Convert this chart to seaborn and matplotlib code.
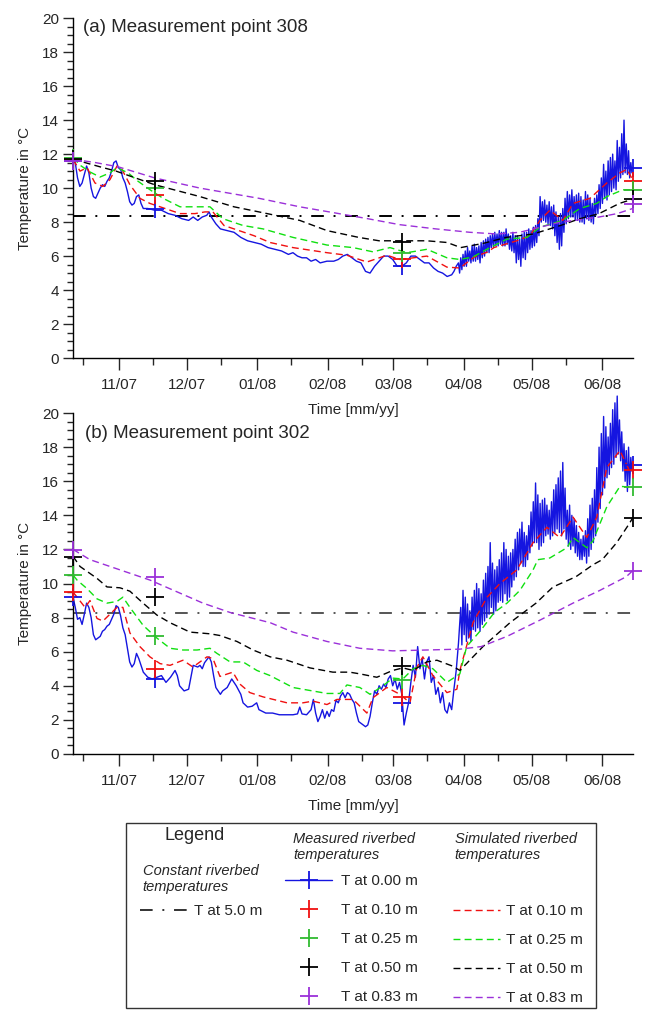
import numpy as np
import pandas as pd
import seaborn as sns
import matplotlib.pyplot as plt
import matplotlib.dates as mdates
from matplotlib.lines import Line2D
from matplotlib.patches import Rectangle
from matplotlib.ticker import MultipleLocator

sns.set_style("ticks")
plt.rcParams['font.family'] = ['Liberation Sans', 'DejaVu Sans']

# time axis: days after 2007-10-11 16:00 (left edge of both panels)
START = pd.Timestamp("2007-10-11 16:00")
END_DAY = 247

# ---------------- measurement point 308 ----------------
mp308_days = [0, 1, 2, 3, 4, 5, 6, 7, 8, 9, 10, 11, 12, 13, 14, 15, 16, 17, 18, 19,
              20, 21, 22, 23, 24, 25, 26, 27, 28, 29, 30, 31, 33, 36, 39, 42, 45, 48,
              51, 53, 55, 57, 59, 60, 61, 63, 65, 68, 71, 74, 77, 80, 83, 86, 89, 92,
              95, 97, 99, 101, 103, 105, 107, 109, 112, 115, 117, 119, 121, 123, 125,
              127, 129, 131, 133, 135, 137, 139, 141, 143, 145, 147, 149, 151, 153,
              155, 157, 159, 161, 163, 165, 167, 168, 169]
mp308_t000 = [11.6, 11.5, 10.6, 10.1, 10.3, 10.8, 11.3, 10.9, 10.0, 9.5, 9.4, 9.7, 10.0,
              10.2, 10.1, 10.4, 10.6, 11.0, 11.5, 11.6, 11.2, 11.1, 10.6, 10.3, 9.8, 9.2,
              9.0, 9.1, 9.5, 9.6, 9.1, 8.8, 8.8, 8.7, 8.7, 8.5, 8.4, 8.2, 8.1, 8.3, 8.1,
              8.3, 8.4, 8.6, 8.3, 7.9, 7.6, 7.5, 7.4, 7.1, 6.9, 6.8, 6.7, 6.5, 6.4, 6.3,
              6.1, 6.2, 6.0, 5.9, 5.9, 5.7, 5.8, 5.6, 5.7, 5.7, 5.8, 6.0, 6.1, 5.9, 5.7,
              5.6, 5.1, 5.0, 5.4, 5.7, 6.0, 6.0, 5.8, 5.4, 5.4, 5.6, 6.0, 6.0, 5.8, 5.6,
              5.6, 5.3, 5.1, 5.0, 4.8, 4.9, 5.1, 5.4]
# spring: daily maxima / minima, days 170..246
mp308_day_max = [5.6, 5.9, 6.1, 6.3, 6.5, 6.3, 6.6, 6.7, 6.5, 6.6, 6.8, 6.9, 7.0, 7.1,
                 7.2, 7.3, 7.4, 7.3, 7.5, 7.4, 7.4, 7.6, 7.3, 7.2, 7.4, 7.2, 7.2, 7.0,
                 7.3, 7.4, 7.4, 7.6, 7.5, 7.7, 7.8, 8.2, 9.5, 9.2, 9.3, 9.0, 9.2, 8.9,
                 9.0, 8.6, 8.3, 8.5, 8.8, 9.4, 9.8, 9.6, 9.9, 9.5, 9.6, 9.7, 9.5, 9.3,
                 9.8, 9.6, 9.4, 9.1, 9.4, 9.6, 10.2, 10.6, 11.4, 11.0, 11.6, 11.8, 12.0,
                 11.6, 12.8, 12.4, 13.2, 14.0, 12.6, 12.2, 11.5]
mp308_day_min = [5.0, 5.2, 5.4, 5.4, 5.7, 5.6, 5.7, 5.7, 5.8, 5.6, 5.9, 6.0, 6.2, 6.2,
                 6.5, 6.5, 6.6, 6.6, 6.7, 6.6, 6.6, 6.7, 6.4, 6.3, 6.2, 5.6, 5.8, 5.4,
                 5.9, 5.8, 6.2, 6.4, 6.5, 6.6, 6.8, 7.2, 8.0, 8.1, 8.0, 7.9, 7.8, 7.6,
                 7.2, 6.8, 6.4, 6.6, 7.4, 7.9, 8.2, 8.3, 8.3, 8.1, 8.1, 8.0, 8.0, 7.9,
                 8.2, 8.1, 8.0, 7.9, 8.4, 8.5, 8.8, 9.1, 9.4, 9.3, 9.6, 9.8, 10.0, 9.9,
                 10.4, 10.6, 10.8, 10.9, 10.8, 10.6, 10.9]

sim308_p_days = [0, 10, 20, 36, 56, 82, 100, 113, 130, 144, 160, 175, 187, 197, 206, 215,
                 224, 232, 240, 246.8]
sim308_t083 = [11.7, 11.5, 11.25, 10.6, 10.0, 9.4, 8.9, 8.6, 8.2, 7.85, 7.6, 7.4, 7.3, 7.4,
               7.7, 8.0, 8.15, 8.3, 8.5, 8.8]
sim308_k_days = [0, 12, 19, 36, 56, 71, 82, 100, 112, 126, 135, 144, 156, 165, 171, 181,
                 191, 203, 215, 223.5, 232, 241, 246.8]
sim308_t050 = [11.7, 11.25, 11.0, 10.2, 9.5, 8.9, 8.6, 8.1, 7.5, 7.1, 6.9, 6.9, 6.9, 6.8,
               6.5, 6.75, 7.1, 7.3, 7.8, 8.2, 8.5, 9.1, 9.35]
sim308_g_days = [0, 3.1, 7.5, 11.9, 16.3, 19.4, 24.3, 28.2, 34, 39.7, 47.2, 54.7, 60.4,
                 66.1, 75, 83.8, 97, 112, 123.5, 132.3, 139.8, 147.3, 156.1, 164.9, 170.6,
                 176.4, 183.9, 191.4, 200.2, 205.9, 216, 223.5, 231, 235.4, 242.5, 246.8]
sim308_t025 = [11.8, 11.35, 10.95, 10.65, 10.9, 11.2, 10.9, 10.45, 9.9, 9.4, 8.9, 8.9, 8.9,
               8.2, 7.8, 7.6, 7.1, 6.65, 6.5, 6.25, 6.5, 6.2, 6.4, 5.9, 5.8, 5.95, 6.5, 7.0,
               7.1, 7.7, 8.1, 8.8, 9.1, 9.5, 9.9, 9.9]
sim308_r_days = [0, 3.1, 6.2, 9.7, 13.2, 16.3, 19.4, 21.6, 25.1, 29.5, 33.9, 38.4, 42.8,
                 47.2, 53.8, 58.2, 61.7, 66.6, 73.2, 79.8, 86.9, 97, 112, 120.8, 129.6,
                 138.4, 144.2, 156.1, 164.9, 170.6, 177, 183, 185.6, 195.7, 201.5, 205.9,
                 210.3, 216, 220.5, 228, 235.4, 241.2, 244.3, 246.8]
sim308_t010 = [11.7, 11.0, 11.2, 10.3, 10.1, 10.5, 11.3, 11.1, 10.2, 9.4, 9.1, 8.9, 8.7,
               8.5, 8.5, 8.6, 8.6, 7.8, 7.5, 7.2, 6.8, 6.5, 6.2, 6.05, 5.65, 6.05, 5.8, 6.0,
               5.35, 5.3, 5.95, 6.25, 6.5, 6.9, 7.2, 8.1, 8.7, 8.1, 9.1, 9.4, 10.3, 10.9,
               11.1, 10.5]

cross308_days = [0, 36.2, 145, 246.8]
cross308_t000 = [11.6, 8.8, 5.4, 11.2]
cross308_t010 = [11.7, 9.6, 5.8, 10.4]
cross308_t025 = [11.8, 10.0, 6.2, 9.9]
cross308_t050 = [11.7, 10.4, 6.8, 9.35]
cross308_p_days = [0, 246.8]
cross308_t083 = [11.6, 9.05]
const308_t500 = 8.35

# ---------------- measurement point 302 ----------------
mp302_days = [0, 1, 2, 3, 4, 5, 6, 7, 8, 9, 10, 11, 12, 13, 14, 15, 16, 17, 18, 19, 20,
              21, 22, 23, 24, 25, 26, 27, 28, 29, 30, 31, 33, 35, 37, 39, 40, 41, 43, 45,
              46, 47, 49, 51, 52, 53, 55, 56, 57, 58, 60, 61, 62, 63, 65, 66, 68, 70, 72,
              74, 75, 77, 79, 81, 82, 85, 88, 91, 94, 97, 99, 100, 101, 103, 105, 106,
              107, 108, 109, 110, 111, 112, 113, 114, 115, 116, 117, 118, 119, 120, 121,
              122, 123, 124, 125, 126, 127, 128, 129, 130, 131, 132, 133, 134, 135, 136,
              137, 138, 139, 140, 141, 142, 143, 144, 145, 146, 147, 148, 149, 150, 151,
              152, 153, 154, 155, 156, 157, 158, 159, 160, 161, 162, 163, 164, 165, 166,
              167, 168, 169, 170]
mp302_t000 = [9.2, 8.6, 7.9, 8.0, 7.6, 8.2, 8.85, 8.6, 8.0, 7.0, 6.7, 6.8, 6.9, 7.2, 7.3,
              7.5, 7.6, 7.9, 8.2, 8.7, 8.6, 8.1, 7.4, 7.0, 6.2, 5.4, 5.1, 5.3, 5.9, 5.6,
              5.2, 4.8, 4.5, 4.4, 4.5, 4.6, 4.4, 4.2, 4.5, 4.9, 4.6, 4.0, 3.7, 3.8, 4.5,
              5.2, 5.1, 5.2, 5.0, 5.35, 5.7, 5.4, 4.6, 3.9, 3.5, 3.7, 3.9, 4.4, 4.0, 3.5,
              3.0, 2.75, 2.8, 3.0, 2.6, 2.4, 2.4, 2.3, 2.3, 2.3, 2.35, 2.75, 2.35, 2.3,
              2.6, 3.2, 2.4, 1.9, 2.2, 2.6, 2.1, 2.5, 2.2, 2.6, 2.5, 3.15, 3.0, 3.4, 3.6,
              3.3, 3.6, 3.5, 3.2, 3.0, 2.4, 1.9, 1.8, 1.7, 1.6, 1.7, 2.2, 3.0, 3.7, 3.5,
              4.0, 3.8, 4.1, 3.9, 4.4, 4.6, 4.0, 4.4, 3.8, 4.2, 3.5, 1.7, 2.4, 3.0, 4.2,
              5.2, 4.5, 6.3, 5.0, 5.6, 4.4, 5.4, 5.7, 4.2, 4.6, 3.5, 3.9, 3.0, 3.6, 2.6,
              2.4, 3.0, 2.6, 3.8, 4.9, 6.5]
# spring: daily maxima / minima, days 171..246
mp302_day_max = [8.6, 9.6, 9.2, 8.8, 8.4, 9.2, 9.6, 10.0, 9.7, 9.4, 10.2, 10.6, 11.0,
                 12.4, 11.2, 10.8, 11.0, 11.4, 11.8, 12.4, 12.0, 11.6, 11.8, 12.0, 12.6,
                 13.0, 13.2, 13.6, 13.0, 12.8, 13.4, 14.2, 14.8, 15.9, 15.2, 14.7, 14.9,
                 15.0, 14.6, 14.3, 14.8, 15.5, 15.8, 16.2, 16.6, 17.1, 15.6, 14.3, 14.6,
                 14.0, 13.8, 13.4, 13.0, 12.6, 12.8, 13.1, 13.8, 14.6, 15.0, 15.5, 16.8,
                 18.0, 18.8, 19.8, 19.2, 18.6, 19.4, 20.2, 20.6, 21.0, 19.6, 18.9, 18.2,
                 17.8, 18.0, 17.4]
mp302_day_min = [6.4, 7.0, 6.6, 6.8, 6.6, 7.3, 7.2, 7.4, 7.2, 7.6, 7.8, 8.0, 8.2, 8.6,
                 8.2, 8.4, 8.9, 9.0, 8.9, 9.4, 9.0, 9.2, 9.8, 10.2, 10.4, 10.8, 11.2,
                 11.0, 11.0, 11.4, 11.8, 12.2, 12.4, 12.4, 12.0, 12.2, 12.4, 12.8, 12.9,
                 12.6, 12.8, 13.0, 13.2, 13.0, 12.8, 13.2, 12.6, 12.2, 12.0, 12.2, 11.8,
                 11.6, 11.4, 11.4, 11.6, 11.2, 11.6, 12.0, 12.4, 12.8, 13.6, 14.4, 15.2,
                 15.6, 16.2, 16.4, 16.8, 17.0, 17.4, 17.6, 17.2, 16.6, 16.0, 15.4, 15.8,
                 16.6]

sim302_p_days = [0, 7.5, 34, 57.3, 69.3, 87, 97, 112, 126.5, 141, 156, 170.6, 180, 191.4,
                 205.9, 220.5, 232.4, 244, 246.8]
sim302_t083 = [12.0, 11.4, 10.2, 8.85, 8.3, 7.7, 7.15, 6.6, 6.2, 6.05, 6.1, 6.15, 6.3, 6.9,
               7.85, 8.85, 9.6, 10.4, 10.75]
sim302_k_days = [0, 3.1, 10.6, 15, 20.7, 25.1, 30.9, 37, 42.8, 51.6, 60.4, 64.8, 72.3,
                 79.4, 86.9, 94.4, 104.5, 114.6, 122, 126.5, 134, 141, 145.5, 150, 156,
                 160.5, 167.5, 170.6, 180.8, 192.7, 204.2, 211.7, 221.8, 229.3, 233.4,
                 239.8, 245.5, 246.8]
sim302_t050 = [11.6, 11.0, 10.3, 9.8, 9.75, 9.55, 8.85, 8.15, 7.7, 7.15, 7.05, 6.95, 6.6,
               6.1, 5.7, 5.5, 5.05, 4.8, 4.8, 4.7, 4.5, 4.9, 5.05, 4.9, 5.4, 5.5, 5.15,
               4.9, 6.3, 7.7, 8.85, 9.8, 10.4, 11.1, 11.4, 12.4, 13.55, 13.85]
sim302_g_days = [0, 1.8, 6.2, 10.6, 15, 19.4, 22, 25.1, 30.9, 37, 42.8, 48.5, 54.7, 60.4,
                 63.5, 69.3, 75, 81.1, 86.9, 97, 112, 117.7, 120.8, 126.5, 131, 136.7, 141,
                 145.5, 150, 154.3, 158.7, 164.9, 170.6, 173.6, 180.1, 185.8, 191.4, 197.1,
                 202.9, 205, 210.3, 217.8, 220.5, 226.6, 229.3, 235.4, 241.2, 246.8]
sim302_t025 = [10.5, 10.2, 9.7, 9.1, 8.85, 8.95, 9.2, 8.6, 7.55, 6.8, 6.2, 6.1, 6.1, 6.2,
               5.9, 5.4, 5.4, 4.9, 4.6, 3.9, 3.55, 3.55, 4.05, 3.9, 3.5, 4.0, 4.45, 4.4,
               5.0, 5.2, 5.0, 4.2, 4.7, 6.3, 7.3, 8.3, 8.85, 9.6, 10.8, 11.4, 11.5, 12.1,
               12.7, 12.1, 12.5, 14.5, 15.7, 15.65]
sim302_r_days = [0, 1.8, 5.3, 7.5, 10.6, 13.2, 19.4, 22, 25.1, 29.5, 33.9, 38.4, 42.8,
                 48.5, 52.9, 59.1, 61.7, 64.8, 70.5, 73.6, 78, 83.8, 94.4, 101.4, 105.8,
                 112, 116.4, 123.5, 129.6, 132.3, 138.4, 144.2, 148.6, 151.7, 154.3, 158.7,
                 164.9, 169.3, 170.6, 176.4, 182.6, 188.3, 195.7, 202.9, 209, 214.7, 220.5,
                 226.6, 231, 235.4, 241.2, 245.5, 246.8]
sim302_t010 = [9.5, 9.2, 8.6, 9.0, 7.95, 7.8, 8.6, 8.6, 7.1, 6.3, 5.7, 5.3, 5.2, 5.5, 5.1,
               5.7, 5.6, 4.55, 4.8, 4.1, 3.6, 3.35, 3.0, 3.0, 3.1, 2.9, 3.2, 3.2, 2.4, 3.3,
               3.9, 3.5, 3.0, 5.1, 5.7, 4.6, 3.6, 3.8, 4.9, 7.7, 9.2, 10.0, 10.8, 12.4, 13.3,
               12.7, 13.9, 12.7, 13.9, 16.8, 17.8, 16.6, 16.6]

cross302_days = [0, 36.2, 145, 246.8]
cross302_t000 = [9.2, 4.4, 3.0, 16.95]
cross302_t010 = [9.5, 5.0, 3.35, 16.65]
cross302_t025 = [10.5, 6.9, 4.35, 15.65]
cross302_t050 = [11.55, 9.2, 5.15, 13.85]
cross302_p_days = [0, 36.2, 246.8]
cross302_t083 = [11.95, 10.4, 10.75]
const302_t500 = 8.3

C_BLUE = "#1515E0"
C_RED = "#F01010"
C_GREEN_SIM = "#10E010"
C_GREEN = "#30BB30"
C_BLACK = "#000000"
C_PURPLE = "#9B30D9"
DASH = (0, (5, 3))
DASHDOT = (0, (6.5, 5, 1, 5))


def to_dates(days):
    return START + pd.to_timedelta(np.asarray(days, dtype=float), unit="D")


def measured_series(days, temps, first_spring_day, day_max, day_min):
    # daily max at the start of each spring day, daily min half a day later
    d = list(days)
    t = list(temps)
    for i, (hi, lo) in enumerate(zip(day_max, day_min)):
        d += [first_spring_day + i, first_spring_day + i + 0.5]
        t += [hi, lo]
    return to_dates(d), t


def draw_panel(ax, meas, sims, crosses, t_const, const_color):
    ax.set_facecolor("none")
    ax.axhline(t_const, color=const_color, lw=1.4, linestyle=DASHDOT, zorder=1)

    mx, my = meas
    sns.lineplot(x=mx, y=my, ax=ax, color=C_BLUE, lw=1.0,
                 estimator=None, sort=False, clip_on=False, zorder=2)

    for d, t, c in sims:
        sns.lineplot(x=to_dates(d), y=t, ax=ax, color=c, lw=1.0, linestyle=DASH,
                     estimator=None, sort=False, zorder=3)

    for d, t, c in crosses:
        sns.scatterplot(x=to_dates(d), y=t, ax=ax, marker="+", s=160, color=c,
                        linewidth=1.3, clip_on=False, zorder=5, legend=False)

    ax.set_xlim(START, START + pd.Timedelta(days=END_DAY))
    ax.set_ylim(0, 20)
    ax.xaxis.set_major_locator(mdates.MonthLocator())
    ax.xaxis.set_minor_locator(mdates.MonthLocator(bymonthday=16))
    ax.xaxis.set_major_formatter(mdates.DateFormatter("%m/%y"))
    ax.yaxis.set_major_locator(MultipleLocator(2))
    ax.yaxis.set_minor_locator(MultipleLocator(0.5))
    ax.tick_params(axis="x", which="major", length=8.5, width=1, labelsize=11, pad=6)
    ax.tick_params(axis="x", which="minor", length=5, width=1)
    ax.tick_params(axis="y", which="major", length=7, width=1, labelsize=11, pad=3)
    ax.tick_params(axis="y", which="minor", length=4.5, width=1)
    sns.despine(ax=ax)
    for sp in ("left", "bottom"):
        ax.spines[sp].set_linewidth(1.0)
        ax.spines[sp].set_color("black")
    ax.set_xlabel("Time [mm/yy]", fontsize=11, labelpad=7.5)
    ax.set_ylabel("Temperature in \u00b0C", fontsize=11)
    ax.yaxis.set_label_coords(-0.074, 0.5)
    return ax


fig = plt.figure(figsize=(6.46, 10.10), dpi=100, facecolor="white")
ax_a = fig.add_axes([0.113, 0.6455, 0.867, 0.3365])
ax_b = fig.add_axes([0.113, 0.2535, 0.867, 0.3375])

draw_panel(ax_a, measured_series(mp308_days, mp308_t000, 170, mp308_day_max, mp308_day_min),
           [(sim308_r_days, sim308_t010, C_RED), (sim308_g_days, sim308_t025, C_GREEN_SIM),
            (sim308_k_days, sim308_t050, C_BLACK), (sim308_p_days, sim308_t083, C_PURPLE)],
           [(cross308_days, cross308_t000, C_BLUE), (cross308_days, cross308_t010, C_RED),
            (cross308_days, cross308_t025, C_GREEN), (cross308_days, cross308_t050, C_BLACK),
            (cross308_p_days, cross308_t083, C_PURPLE)],
           const308_t500, "black")
ax_a.text(0.018, 0.973, "(a) Measurement point 308", transform=ax_a.transAxes,
          fontsize=13.5, ha="left", va="center")

draw_panel(ax_b, measured_series(mp302_days, mp302_t000, 171, mp302_day_max, mp302_day_min),
           [(sim302_r_days, sim302_t010, C_RED), (sim302_g_days, sim302_t025, C_GREEN_SIM),
            (sim302_k_days, sim302_t050, C_BLACK), (sim302_p_days, sim302_t083, C_PURPLE)],
           [(cross302_days, cross302_t000, C_BLUE), (cross302_days, cross302_t010, C_RED),
            (cross302_days, cross302_t025, C_GREEN), (cross302_days, cross302_t050, C_BLACK),
            (cross302_p_days, cross302_t083, C_PURPLE)],
           const302_t500, "#555555")
ax_b.text(0.021, 0.941, "(b) Measurement point 302", transform=ax_b.transAxes,
          fontsize=13.5, ha="left", va="center")

# ---------------- legend box ----------------
fig.patches.append(Rectangle((0.195, 0.002), 0.728, 0.183, transform=fig.transFigure,
                             fill=False, edgecolor="#333333", lw=1.0))
fig.text(0.255, 0.173, "Legend", fontsize=13, ha="left", va="center")
fig.text(0.221, 0.1445, "Constant riverbed\ntemperatures", fontsize=10.5, style="italic",
         ha="left", va="top", linespacing=1.2)
fig.text(0.4536, 0.176, "Measured riverbed\ntemperatures", fontsize=10.5, style="italic",
         ha="left", va="top", linespacing=1.2)
fig.text(0.704, 0.176, "Simulated riverbed\ntemperatures", fontsize=10.5, style="italic",
         ha="left", va="top", linespacing=1.2)

depth_labels = ["T at 0.00 m", "T at 0.10 m", "T at 0.25 m", "T at 0.50 m", "T at 0.83 m"]
cross_colors = [C_BLUE, C_RED, C_GREEN, C_BLACK, C_PURPLE]
sim_colors = [C_RED, C_GREEN_SIM, C_BLACK, C_PURPLE]

meas_handles = [Line2D([], [], color=C_BLUE, lw=1.0, marker="+", ms=13, mew=1.3)]
meas_handles += [Line2D([], [], color=c, ls="none", marker="+", ms=13, mew=1.3)
                 for c in cross_colors[1:]]
sim_handles = [Line2D([], [], color=c, lw=1.0, ls=DASH) for c in sim_colors]
const_handle = [Line2D([], [], color="#333333", lw=1.4, ls=DASHDOT)]

common = dict(frameon=False, fontsize=11, handlelength=3.1, borderpad=0,
              borderaxespad=0, labelspacing=0.98, loc="upper left")
fig.legend(meas_handles, depth_labels, bbox_to_anchor=(0.441, 0.1346),
           handletextpad=0.6, **common)
fig.legend(sim_handles, depth_labels[1:], bbox_to_anchor=(0.701, 0.105),
           handletextpad=0.4, **common)
fig.legend(const_handle, ["T at 5.0 m"], bbox_to_anchor=(0.217, 0.105),
           handletextpad=0.4, **common)

fig.savefig("out.png", dpi=100)
